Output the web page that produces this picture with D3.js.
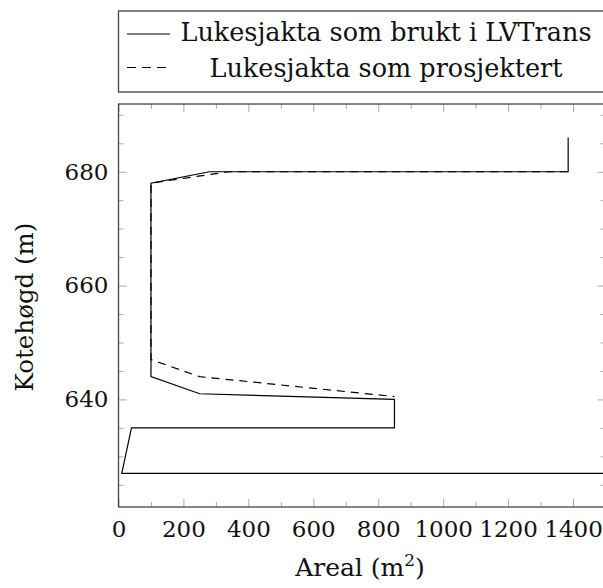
<!DOCTYPE html>
<html>
<head>
<meta charset="utf-8">
<script src="https://cdn.jsdelivr.net/npm/d3@7"></script>
<style>
  body { margin: 0; background: #fff; }
  svg text { font-family: "DejaVu Serif", serif; fill: #111; }
  .tick line { stroke: #aaa; }
  .domain { display: none; }
</style>
</head>
<body>
<svg id="chart" width="603" height="588"></svg>
<script>
// solid series: shaft as used in LVTrans
const solidX = [1385, 1385, 280, 100, 100, 250, 850, 850, 40, 10, 1500];
const solidY = [686, 680, 680, 678, 644, 641, 640, 635, 635, 627, 627];
// dashed series: shaft as designed
const dashedX = [1385, 340, 100, 100, 250, 850];
const dashedY = [680, 680, 678, 647, 644, 640.5];

const xTicks = [0, 200, 400, 600, 800, 1000, 1200, 1400];
const xMinor = d3.range(100, 1500, 200);
const yTicks = [640, 660, 680];
const yMinor = [625, 630, 635, 645, 650, 655, 665, 670, 675, 685, 690];

const legendLabels = ["Lukesjakta som brukt i LVTrans", "Lukesjakta som prosjektert"];

const plot = { left: 118.5, top: 104, right: 605.5, bottom: 507 };

const svg = d3.select("#chart");

const x = d3.scaleLinear().domain([0, 1500]).range([plot.left, plot.right]);
const y = d3.scaleLinear().domain([621.1, 691.9]).range([plot.bottom, plot.top]);

svg.append("defs").append("clipPath").attr("id", "clip")
  .append("rect")
    .attr("x", plot.left).attr("y", plot.top)
    .attr("width", plot.right - plot.left).attr("height", plot.bottom - plot.top);

// ticks, pointing inwards on all four sides
function addAxis(axis, tx, ty, fontSize) {
  const g = svg.append("g").attr("transform", "translate(" + tx + "," + ty + ")").call(axis);
  g.attr("font-family", null);
  g.selectAll("text").style("font-size", fontSize + "px");
  return g;
}

const bottom = addAxis(d3.axisBottom(x).tickValues(xTicks).tickSizeInner(-8).tickSizeOuter(0)
  .tickFormat(d3.format("d")), 0, plot.bottom, 23);
bottom.selectAll("text").attr("y", 30).attr("dy", null);
addAxis(d3.axisBottom(x).tickValues(xMinor).tickSizeInner(-5).tickSizeOuter(0).tickFormat(""), 0, plot.bottom, 10);
addAxis(d3.axisTop(x).tickValues(xTicks).tickSizeInner(-8).tickSizeOuter(0).tickFormat(""), 0, plot.top, 10);
addAxis(d3.axisTop(x).tickValues(xMinor).tickSizeInner(-5).tickSizeOuter(0).tickFormat(""), 0, plot.top, 10);

addAxis(d3.axisLeft(y).tickValues(yTicks).tickSizeInner(-8).tickSizeOuter(0).tickPadding(10), plot.left, 0, 23);
addAxis(d3.axisLeft(y).tickValues(yMinor).tickSizeInner(-5).tickSizeOuter(0).tickFormat(""), plot.left, 0, 10);
addAxis(d3.axisRight(y).tickValues(yTicks).tickSizeInner(-8).tickSizeOuter(0).tickFormat(""), plot.right, 0, 10);
addAxis(d3.axisRight(y).tickValues(yMinor).tickSizeInner(-5).tickSizeOuter(0).tickFormat(""), plot.right, 0, 10);

// series
const line = d3.line().x(d => x(d[0])).y(d => y(d[1]));
const data = g => g.x.map((v, i) => [v, g.y[i]]);

const lines = svg.append("g").attr("clip-path", "url(#clip)");
lines.append("path")
  .attr("d", line(data({ x: dashedX, y: dashedY })))
  .attr("fill", "none").attr("stroke", "#000").attr("stroke-width", 1.2)
  .attr("stroke-dasharray", "8,6");
lines.append("path")
  .attr("d", line(data({ x: solidX, y: solidY })))
  .attr("fill", "none").attr("stroke", "#000").attr("stroke-width", 1.2);

// axis box
svg.append("rect")
  .attr("x", plot.left).attr("y", plot.top)
  .attr("width", plot.right - plot.left).attr("height", plot.bottom - plot.top)
  .attr("fill", "none").attr("stroke", "#444").attr("stroke-width", 1.3);

// axis labels
const xl = svg.append("text")
  .attr("x", 360).attr("y", 576)
  .attr("text-anchor", "middle").style("font-size", "25px");
xl.append("tspan").text("Areal (m");
xl.append("tspan").attr("dy", -10).style("font-size", "17px").text("2");
xl.append("tspan").attr("dy", 10).text(")");

svg.append("text")
  .attr("transform", "translate(33,307) rotate(-90)")
  .attr("text-anchor", "middle").style("font-size", "24.5px")
  .text("Kotehøgd (m)");

// legend
const legend = svg.append("g");
legend.append("rect")
  .attr("x", 118.5).attr("y", 11)
  .attr("width", 500).attr("height", 81)
  .attr("fill", "#fff").attr("stroke", "#444").attr("stroke-width", 1.3);

const legendRows = [{ dash: null, ly: 34, ty: 41 }, { dash: "9,6", ly: 67.5, ty: 77 }];
legendRows.forEach((r, i) => {
  legend.append("line")
    .attr("x1", 127).attr("x2", 170).attr("y1", r.ly).attr("y2", r.ly)
    .attr("stroke", "#000").attr("stroke-width", 1.2)
    .attr("stroke-dasharray", r.dash);
  legend.append("text")
    .attr("x", 386).attr("y", r.ty)
    .attr("text-anchor", "middle").style("font-size", "25.5px")
    .text(legendLabels[i]);
});
</script>
</body>
</html>
